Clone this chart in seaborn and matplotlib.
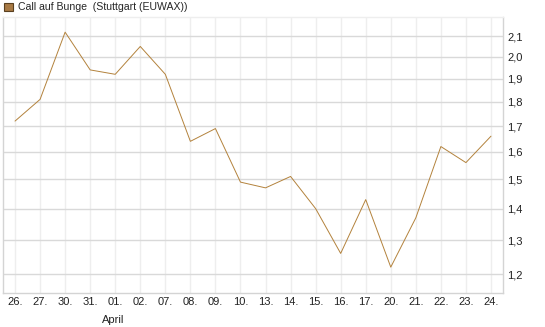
import matplotlib
matplotlib.use('Agg')
import matplotlib.pyplot as plt
import matplotlib.transforms as mtransforms
from matplotlib.patches import Patch
from matplotlib.ticker import FixedLocator, NullLocator
import seaborn as sns
import pandas as pd

# data
days = ['26.', '27.', '30.', '31.', '01.', '02.', '07.', '08.', '09.', '10.',
        '13.', '14.', '15.', '16.', '17.', '20.', '21.', '22.', '23.', '24.']
prices = [1.72, 1.81, 2.12, 1.94, 1.92, 2.05, 1.92, 1.64, 1.69, 1.49,
          1.47, 1.51, 1.40, 1.26, 1.43, 1.22, 1.37, 1.62, 1.56, 1.66]
ytick_vals = [1.2, 1.3, 1.4, 1.5, 1.6, 1.7, 1.8, 1.9, 2.0, 2.1]
month_label = 'April'
month_pos = 4
series_name = 'Call auf Bunge  (Stuttgart (EUWAX))'

line_col = '#b3823c'

sns.set_theme(style='white')
plt.rcParams['font.family'] = ['Liberation Sans', 'DejaVu Sans']

df = pd.DataFrame({'idx': range(len(days)), 'price': prices})

fig = plt.figure(figsize=(5.45, 3.27), dpi=100)
ax = fig.add_axes([3/545, 34/327, 500/545, 276/327])

sns.lineplot(data=df, x='idx', y='price', ax=ax, color=line_col, lw=0.7)

ax.set_yscale('log')
ax.set_ylim(1.148, 2.197)
ax.set_xlim(-0.48, 19.48)

ax.yaxis.set_major_locator(FixedLocator(ytick_vals))
ax.yaxis.set_minor_locator(NullLocator())
ax.set_yticklabels([f'{v:.1f}'.replace('.', ',') for v in ytick_vals])
ax.yaxis.tick_right()
ax.set_xticks(range(len(days)))
ax.set_xticklabels(days)
ax.tick_params(axis='both', length=0, labelsize=8, colors='#222222')
ax.tick_params(axis='y', pad=3)
ax.tick_params(axis='x', pad=3)
ax.set_xlabel('')
ax.set_ylabel('')

ax.grid(axis='y', color='#d9d9d9', lw=1)
ax.grid(axis='x', color='#eeeeee', lw=1)
ax.set_axisbelow(True)
for side in ['left', 'right', 'bottom', 'top']:
    ax.spines[side].set_color('#d4d4d4')
    ax.spines[side].set_linewidth(1)
ax.spines['top'].set_color('#eeeeee')

# month label under the first day of the month
trans = mtransforms.blended_transform_factory(ax.transData, ax.transAxes)
ax.text(month_pos - 0.1, -0.078, month_label, transform=trans, ha='center', va='top',
        fontsize=8, color='#222222')

handle = Patch(facecolor='#a87a45', edgecolor='#5a4020', lw=0.8)
fig.legend([handle], [series_name], loc='upper left', bbox_to_anchor=(-0.004, 1.012),
           frameon=False, fontsize=7.6, handlelength=0.85, handleheight=0.85,
           handletextpad=0.45, borderaxespad=0.2)

fig.savefig('out.png', dpi=100)
